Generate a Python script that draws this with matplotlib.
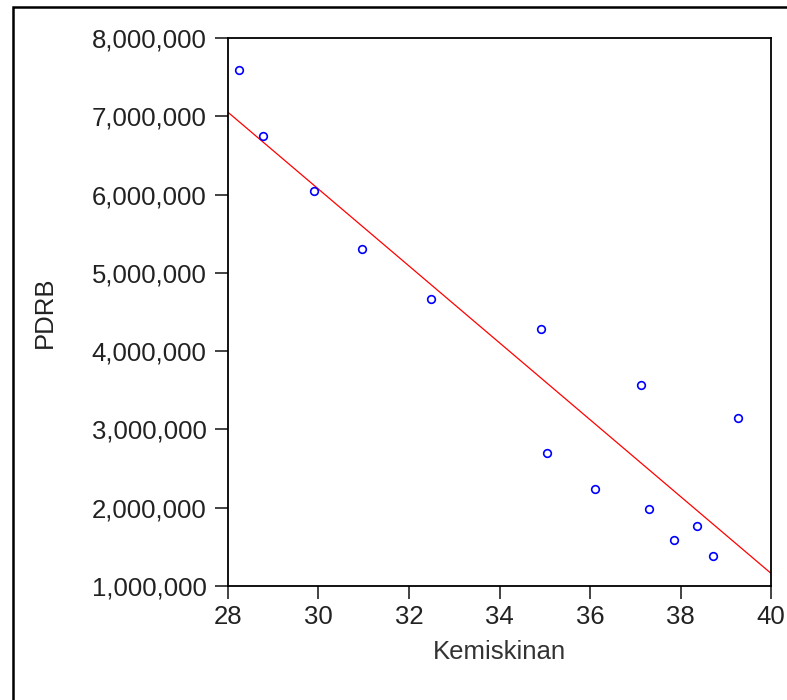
import matplotlib
matplotlib.use('Agg')
import matplotlib.pyplot as plt
import numpy as np
from matplotlib.patches import Rectangle
from matplotlib.ticker import FuncFormatter

# Data (Kemiskinan vs PDRB)
kemiskinan = [28.24, 28.77, 29.90, 30.96, 32.49, 34.92, 35.05,
              36.11, 37.13, 37.30, 37.86, 38.36, 38.72, 39.27]
pdrb = [7590000, 6750000, 6050000, 5310000, 4670000, 4280000, 2700000,
        2240000, 3570000, 1980000, 1590000, 1770000, 1380000, 3150000]

x_ticks = [28, 30, 32, 34, 36, 38, 40]
y_ticks = [1000000, 2000000, 3000000, 4000000, 5000000, 6000000, 7000000, 8000000]

plt.rcParams['font.family'] = ['Liberation Sans', 'DejaVu Sans']

fig = plt.figure(figsize=(7.87, 7.0), dpi=100)
ax = fig.add_axes([0.2897, 0.1629, 0.690, 0.7828])

# Outer frame (only left and top edges visible in the crop)
fig.patches.append(Rectangle((0.0165, -0.2), 1.5, 1.19, transform=fig.transFigure,
                             fill=False, edgecolor='black', linewidth=1.8))

# Least squares line
slope, intercept = np.polyfit(kemiskinan, pdrb, 1)
xl = np.array([28, 40])
ax.plot(xl, slope * xl + intercept, color='red', linewidth=0.9, zorder=2)

ax.plot(kemiskinan, pdrb, linestyle='none', marker='o', markersize=5.5,
        markerfacecolor='none', markeredgecolor='blue', markeredgewidth=1.2, zorder=3)

ax.set_xlim(28, 40)
ax.set_ylim(1000000, 8000000)
ax.set_xticks(x_ticks)
ax.set_yticks(y_ticks)
ax.yaxis.set_major_formatter(FuncFormatter(lambda v, p: '{:,.0f}'.format(v)))

ax.tick_params(axis='both', direction='out', length=9.5, width=1.2, labelsize=18.5,
               colors='#222222')
ax.tick_params(axis='y', pad=6)
ax.tick_params(axis='x', pad=4)
for s in ax.spines.values():
    s.set_linewidth(1.3)
    s.set_color('black')

ax.set_xlabel('Kemiskinan', fontsize=18.5, color='#333333', labelpad=8)
ax.set_ylabel('PDRB', fontsize=18.5, color='#222222', labelpad=25)

fig.savefig('out.png', dpi=100)
